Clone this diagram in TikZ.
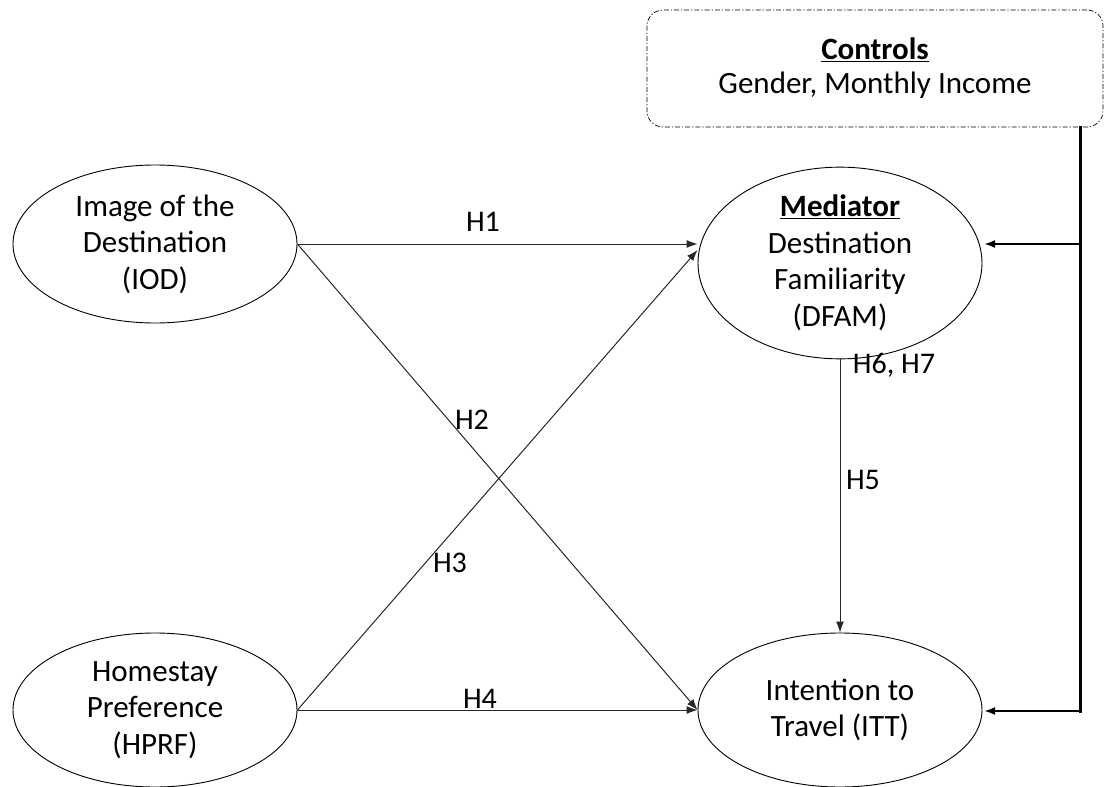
\documentclass[tikz,border=0pt]{standalone}
\usepackage{fontspec}
\setmainfont{Carlito}
\usetikzlibrary{shapes.geometric,arrows.meta,calc}
\begin{document}
\begin{tikzpicture}[x=1pt,y=-1pt,
  construct/.style={ellipse,draw,line width=0.9pt,minimum width=284pt,minimum height=158pt,inner sep=0pt,align=center,font=\fontsize{31}{36.5}\selectfont},
  path/.style={line width=1pt,draw=black!85,-{Latex[length=11pt,width=8pt]}},
  ctrl/.style={line width=3pt,line cap=rect},
  ctrlarrow/.style={line width=2pt,-{Latex[length=11pt,width=8pt]}},
  hyp/.style={font=\fontsize{30}{34}\selectfont,inner sep=0pt}]
\useasboundingbox (0,0) rectangle (1104,787);
\node[draw,rounded corners=16pt,line width=0.7pt,dash pattern=on 5pt off 2pt on 1.2pt off 2pt,
  minimum width=456pt,minimum height=117pt,align=center,font=\fontsize{31}{34}\selectfont] (controls) at (875,68.5)
  {\underline{\textbf{Controls}}\\Gender, Monthly Income};
\node[construct] (IOD) at (155,244) {Image of the\\Destination\\(IOD)};
\node[construct,minimum height=154pt] (HPRF) at (155,710) {Homestay\\Preference\\(HPRF)};
\node[construct] (DFAM) at (840,263) {\underline{\textbf{Mediator}}\\Destination\\Familiarity\\(DFAM)};
\node[construct,minimum height=154pt] (ITT) at (840,710) {Intention to\\Travel (ITT)};
\coordinate (tgt1) at (DFAM.west |- IOD.east);
\coordinate (tgt3) at ($(tgt1)+(0,6)$);
\draw[path] (IOD.east) -- (tgt1);
\draw[path] (IOD.east) -- (ITT.west);
\draw[path] (HPRF.east) -- (tgt3);
\draw[path] (HPRF.east) -- (ITT.west);
\draw[path] (DFAM.south) -- (ITT.north);
\coordinate (cb) at (1080,127);
\coordinate (j1) at (1080,244);
\coordinate (j2) at (1080,711);
\coordinate (e1) at (984,244);
\coordinate (e2) at (984,711);
\draw[ctrl] (cb) -- (j2);
\draw[ctrlarrow] (j1) -- (e1);
\draw[ctrlarrow] (j2) -- (e2);
\node[hyp] (h1) at (483,222) {H1};
\node[hyp] (h2) at (472,420) {H2};
\node[hyp] (h3) at (450,563) {H3};
\node[hyp] (h4) at (480,699) {H4};
\node[hyp] (h67) at (894,365) {H6, H7};
\node[hyp] (h5) at (863,480) {H5};
\end{tikzpicture}
\end{document}
